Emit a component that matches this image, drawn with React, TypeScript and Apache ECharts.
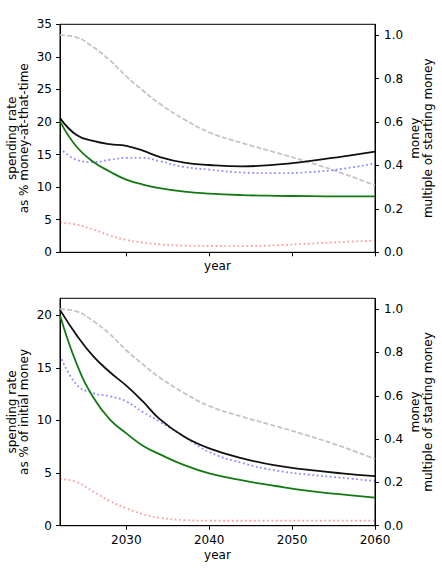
import React, { useEffect, useRef } from "react";
import * as echarts from "echarts";

const years = [2022, 2024, 2026, 2028, 2030, 2032, 2034, 2037, 2040, 2044, 2048, 2052, 2056, 2060];

// top panel: spending rate as % of money-at-that-time
const topBlack = [20.6, 18.0, 17.1, 16.6, 16.35, 15.6, 14.65, 13.75, 13.4, 13.2, 13.45, 14.0, 14.7, 15.45];
const topBlue = [16.0, 14.2, 13.85, 14.2, 14.5, 14.5, 14.0, 13.1, 12.7, 12.25, 12.15, 12.3, 12.8, 13.65];
const topGreen = [20.1, 16.2, 13.9, 12.4, 11.15, 10.4, 9.85, 9.3, 9.0, 8.78, 8.67, 8.62, 8.58, 8.57];
const topRed = [4.55, 4.25, 3.5, 2.6, 1.9, 1.5, 1.22, 1.02, 0.97, 0.96, 1.07, 1.32, 1.58, 1.8];

// bottom panel: spending rate as % of initial money
const botBlack = [20.5, 18.1, 16.1, 14.6, 13.3, 11.8, 10.15, 8.45, 7.35, 6.4, 5.72, 5.3, 4.97, 4.7];
const botBlue = [16.2, 13.4, 12.6, 12.3, 11.8, 10.8, 9.9, 8.45, 7.0, 5.95, 5.25, 4.85, 4.55, 4.24];
const botGreen = [20.0, 15.4, 12.2, 10.1, 8.77, 7.6, 6.8, 5.75, 4.97, 4.3, 3.77, 3.3, 2.97, 2.66];
const botRed = [4.43, 4.15, 3.25, 2.35, 1.65, 1.1, 0.75, 0.53, 0.48, 0.47, 0.48, 0.48, 0.48, 0.48];

// money as multiple of starting money (right axis, both panels)
const money = [1.0, 0.99, 0.945, 0.885, 0.81, 0.745, 0.685, 0.612, 0.553, 0.503, 0.46, 0.415, 0.365, 0.308];

const xTicks = [2030, 2040, 2050, 2060];
const topLeftTicks = [0, 5, 10, 15, 20, 25, 30, 35];
const botLeftTicks = [0, 5, 10, 15, 20];
const rightTicks = [0, 0.2, 0.4, 0.6, 0.8, 1.0];

const FONT = "DejaVu Sans";
const FS = 12;

function pairs(ys: number[]) {
  return years.map((x, i) => [x, ys[i]]);
}

export default function App() {
  const ref = useRef<HTMLDivElement>(null);
  useEffect(() => {
    if (!ref.current) return;
    const chart = echarts.init(ref.current, undefined, { renderer: "svg" });
    const gridTop = { left: 60, top: 24.3, width: 315, height: 228 };
    const gridBot = { left: 60, top: 298.3, width: 315, height: 227.4 };
    const label = { fontFamily: FONT, fontSize: FS, color: "#000" };
    const tick = (vals: number[]) => ({
      show: true,
      inside: false,
      length: 4,
      lineStyle: { color: "#000", width: 1 },
      customValues: vals,
    });
    const xAxis = (gridIndex: number, showLabels: boolean, gap: number) => ({
      type: "value",
      gridIndex,
      min: 2022,
      max: 2060,
      axisLine: { show: true, lineStyle: { color: "#000", width: 1 } },
      axisTick: tick(xTicks),
      axisLabel: {
        ...label,
        show: showLabels,
        margin: 8,
        customValues: xTicks,
        formatter: (v: number) => String(v),
      },
      splitLine: { show: false },
      name: "year",
      nameLocation: "middle",
      nameGap: gap,
      nameTextStyle: { fontFamily: FONT, fontSize: FS, color: "#000" },
    });
    const leftAxis = (gridIndex: number, max: number, ticks: number[]) => ({
      type: "value",
      gridIndex,
      position: "left",
      min: 0,
      max,
      axisLine: { show: true, lineStyle: { color: "#000", width: 1 } },
      axisTick: tick(ticks),
      axisLabel: { ...label, margin: 8, customValues: ticks },
      splitLine: { show: false },
    });
    const rightAxis = (gridIndex: number) => ({
      type: "value",
      gridIndex,
      position: "right",
      min: 0,
      max: 1.05,
      axisLine: { show: true, lineStyle: { color: "#000", width: 1 } },
      axisTick: tick(rightTicks),
      axisLabel: {
        ...label,
        margin: 9,
        customValues: rightTicks,
        formatter: (v: number) => v.toFixed(1),
      },
      splitLine: { show: false },
    });
    const line = (
      data: number[],
      xi: number,
      yi: number,
      color: string,
      type: any,
      width = 1.8
    ) => ({
      type: "line",
      xAxisIndex: xi,
      yAxisIndex: yi,
      data: pairs(data),
      smooth: 0.45,
      showSymbol: false,
      symbol: "none",
      lineStyle: { color, width, type, cap: "butt" },
      silent: true,
    });
    const dotted = [1.8, 2.6];
    const dashed = [5, 2.2];
    const blue = "rgba(0,0,255,0.45)";
    const red = "rgba(255,0,0,0.38)";
    const gray = "#c4c4c4";
    const green = "#137a13";

    const ytitle = (x: number, y: number, text: string, lh: number) => ({
      type: "text",
      x,
      y,
      rotation: Math.PI / 2,
      style: {
        text,
        fontFamily: FONT,
        fontSize: FS,
        fill: "#000",
        align: "center",
        verticalAlign: "middle",
        textAlign: "center",
        textVerticalAlign: "middle",
        lineHeight: lh,
      },
    });

    chart.setOption({
      animation: false,
      backgroundColor: "#fff",
      grid: [
        { ...gridTop, show: true, borderColor: "#000", borderWidth: 1, backgroundColor: "transparent" },
        { ...gridBot, show: true, borderColor: "#000", borderWidth: 1, backgroundColor: "transparent" },
      ],
      xAxis: [xAxis(0, false, 8), xAxis(1, true, 23)],
      yAxis: [
        leftAxis(0, 35, topLeftTicks),
        rightAxis(0),
        leftAxis(1, 21.6, botLeftTicks),
        rightAxis(1),
      ],
      series: [
        line(money, 0, 1, gray, dashed),
        line(topRed, 0, 0, red, dotted),
        line(topBlue, 0, 0, blue, dotted),
        line(topGreen, 0, 0, green, "solid"),
        line(topBlack, 0, 0, "#111", "solid"),
        line(money, 1, 3, gray, dashed),
        line(botRed, 1, 2, red, dotted),
        line(botBlue, 1, 2, blue, dotted),
        line(botGreen, 1, 2, green, "solid"),
        line(botBlack, 1, 2, "#111", "solid"),
      ],
      graphic: [
        ytitle(17.5, 138.3, "spending rate\nas % money-at-that-time", 12),
        ytitle(421.7, 138.3, "money\nmultiple of starting money", 13),
        ytitle(17.5, 412, "spending rate\nas % of initial money", 12),
        ytitle(421.7, 412, "money\nmultiple of starting money", 13),
      ],
    });
    return () => chart.dispose();
  }, []);
  return (
    <div
      ref={ref}
      style={{ position: "fixed", left: 0, top: 0, width: 442, height: 582, background: "#fff" }}
    />
  );
}
